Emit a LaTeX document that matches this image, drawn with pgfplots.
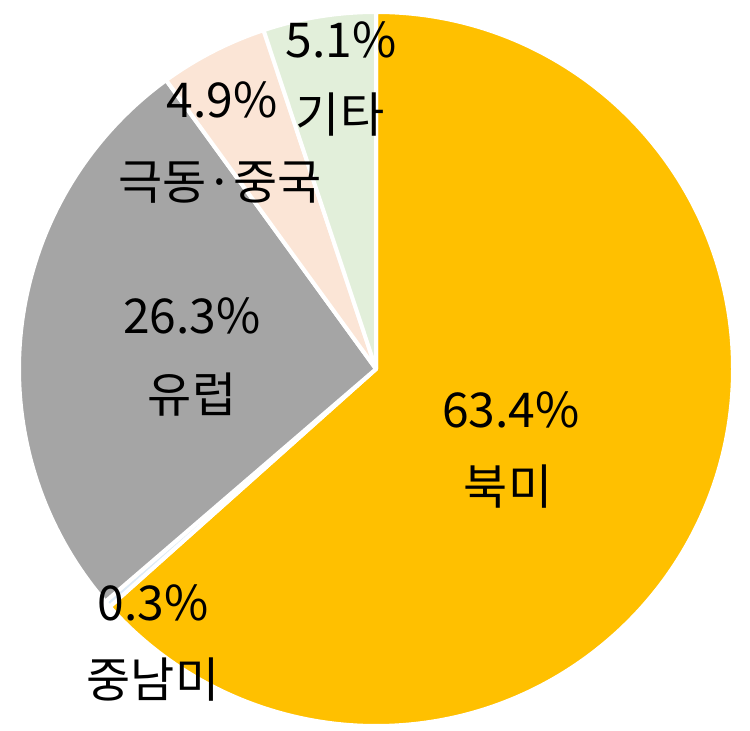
\documentclass[border=0pt]{standalone}
\usepackage{pgfplots}
\pgfplotsset{compat=1.18}
\usepackage{fontspec}
\setmainfont{Noto Sans CJK KR}
\definecolor{cyellow}{HTML}{FFC000}
\definecolor{cgray}{HTML}{A5A5A5}
\definecolor{cpeach}{HTML}{FBE5D6}
\definecolor{cgreen}{HTML}{E2EFDA}
\definecolor{cblue}{HTML}{DDEBF7}
\begin{document}
\begin{tikzpicture}
\begin{axis}[
  scale only axis, width=375pt, height=365.5pt,
  xmin=0, xmax=750, ymin=0, ymax=731, y dir=reverse,
  hide axis, clip=false]
% values (percent): 북미 63.4, 중남미 0.3, 유럽 26.3, 극동·중국 4.9, 기타 5.1
\def\R{178.5pt}
\fill[cyellow, draw=white, line width=2pt, line join=round] (axis cs:376,369) -- ++(90:\R) arc[start angle=90, end angle={90-3.6*63.4}, radius=\R] -- cycle;
\fill[cblue, draw=white, line width=2pt, line join=round] (axis cs:376,369) -- ++({90-3.6*63.4}:\R) arc[start angle={90-3.6*63.4}, end angle={90-3.6*63.7}, radius=\R] -- cycle;
\fill[cgray, draw=white, line width=2pt, line join=round] (axis cs:376,369) -- ++({90-3.6*63.7}:\R) arc[start angle={90-3.6*63.7}, end angle={90-3.6*90.0}, radius=\R] -- cycle;
\fill[cpeach, draw=white, line width=2pt, line join=round] (axis cs:376,369) -- ++({90-3.6*90.0}:\R) arc[start angle={90-3.6*90.0}, end angle={90-3.6*94.9}, radius=\R] -- cycle;
\fill[cgreen, draw=white, line width=2pt, line join=round] (axis cs:376,369) -- ++({90-3.6*94.9}:\R) arc[start angle={90-3.6*94.9}, end angle={-270}, radius=\R] -- cycle;
\tikzset{lbl/.style={font=\fontsize{24}{28}\selectfont, text=black, inner sep=0pt}}
\node[lbl] at (axis cs:511,410) {63.4\%};
\node[lbl] at (axis cs:508,487) {북미};
\node[lbl] at (axis cs:192,316) {26.3\%};
\node[lbl] at (axis cs:192,395) {유럽};
\node[lbl] at (axis cs:222,100) {4.9\%};
\node[lbl] at (axis cs:220,183) {극동·중국};
\node[lbl] at (axis cs:341,40) {5.1\%};
\node[lbl] at (axis cs:340,115) {기타};
\node[lbl] at (axis cs:153,603) {0.3\%};
\node[lbl] at (axis cs:153,680) {중남미};
\end{axis}
\pgfresetboundingbox
\path[use as bounding box] (current axis.south west) rectangle (current axis.north east);
\end{tikzpicture}
\end{document}
